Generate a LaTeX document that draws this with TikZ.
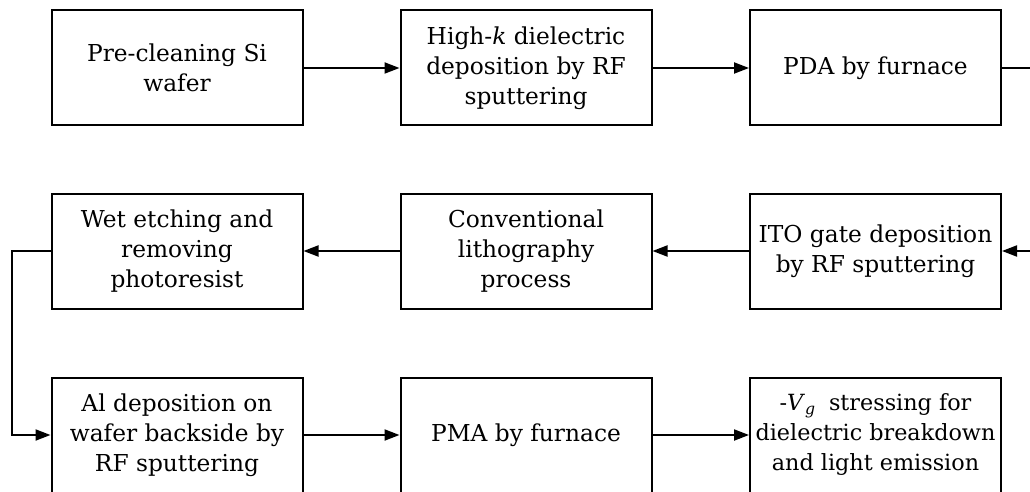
\documentclass[tikz,border=0pt]{standalone}
\usepackage{fontspec}
\setmainfont{DejaVu Serif}
\usetikzlibrary{arrows.meta}
\tikzset{
  stepbox/.style={draw=black, line width=2pt, minimum width=251pt, minimum height=115pt,
    align=center, inner sep=0pt, font=\fontsize{23.3}{30}\selectfont},
  smalltext/.style={font=\fontsize{22.3}{30}\selectfont},
  flow/.style={line width=2pt, -{Triangle[length=15pt,width=11pt]}},
}
\begin{document}
\begin{tikzpicture}[x=1pt,y=1pt]
\useasboundingbox (0,0) rectangle (1030,-492);
\node[stepbox] (a) at (177,-68) {Pre-cleaning Si\\wafer};
\node[stepbox] (b) at (526,-68) {High-\textit{k} dielectric\\deposition by RF\\sputtering};
\node[stepbox] (c) at (875.5,-68) {PDA by furnace};
\node[stepbox] (f) at (177,-251) {Wet etching and\\removing\\photoresist};
\node[stepbox] (e) at (526,-251) {Conventional\\lithography\\process};
\node[stepbox] (d) at (875.5,-251) {ITO gate deposition\\by RF sputtering};
\node[stepbox] (g) at (177,-435) {Al deposition on\\wafer backside by\\RF sputtering};
\node[stepbox] (h) at (526,-435) {PMA by furnace};
\node[stepbox,smalltext] (i) at (875.5,-435) {-\textit{V}\textsubscript{\textit{g}}\hspace{0.6em}stressing for\\dielectric breakdown\\and light emission};
\coordinate (r1) at (1045,-68);
\coordinate (r2) at (1045,-251);
\coordinate (l1) at (12,-251);
\coordinate (l2) at (12,-435);
\draw[flow] (a) -- (b);
\draw[flow] (b) -- (c);
\draw[flow] (c.east) -- (r1) -- (r2) -- (d.east);
\draw[flow] (d) -- (e);
\draw[flow] (e) -- (f);
\draw[flow] (f.west) -- (l1) -- (l2) -- (g.west);
\draw[flow] (g) -- (h);
\draw[flow] (h) -- (i);
\end{tikzpicture}
\end{document}
